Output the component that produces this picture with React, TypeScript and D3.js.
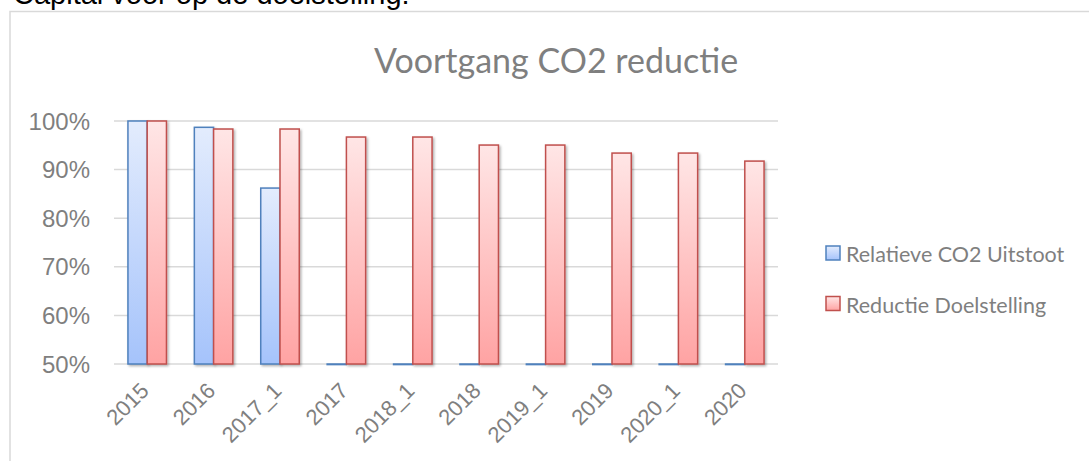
import * as React from "react";
import * as d3 from "d3";

const categories = ["2015", "2016", "2017_1", "2017", "2018_1", "2018", "2019_1", "2019", "2020_1", "2020"];
const seriesNames = ["Relatieve CO2 Uitstoot", "Reductie Doelstelling"];
const uitstoot = [1.0, 0.987, 0.862, 0, 0, 0, 0, 0, 0, 0];
const doelstelling = [1.0, 0.9835, 0.9835, 0.967, 0.967, 0.9505, 0.9505, 0.934, 0.934, 0.9175];
const yTicks = [0.5, 0.6, 0.7, 0.8, 0.9, 1.0];

const strokes = ["#4f81bd", "#c0504d"];
const gradTop = ["#e3ecfd", "#ffe6e6"];
const gradBottom = ["#a5c3fb", "#ffa3a3"];

const width = 1089;
const height = 461;
const plot = { left: 114, right: 778, top: 121, bottom: 364 };
const labelColor = "#7f7f7f";

export default function App() {
	const xScale = React.useMemo(
		() =>
			d3
				.scaleBand<string>()
				.domain(categories)
				.range([plot.left, plot.right])
				.paddingInner(0.42)
				.paddingOuter(0.21),
		[]
	);
	const xSub = React.useMemo(
		() => d3.scaleBand<number>().domain([0, 1]).range([0, xScale.bandwidth()]),
		[xScale]
	);
	const yScale = React.useMemo(
		() => d3.scaleLinear([0.5, 1], [plot.bottom, plot.top]),
		[]
	);
	const fmt = d3.format(".0%");
	const series = [uitstoot, doelstelling];

	const bars: JSX.Element[] = [];
	series.forEach((values, s) => {
		values.forEach((v, i) => {
			const x = (xScale(categories[i]) || 0) + (xSub(s) || 0);
			const y = yScale(Math.max(v, 0.5));
			const h = Math.max(yScale(0.5) - y, 0.6);
			bars.push(
				<rect
					key={`${s}-${i}`}
					x={x}
					y={v > 0.5 ? y : yScale(0.5)}
					width={xSub.bandwidth()}
					height={h}
					fill={`url(#grad${s})`}
					stroke={strokes[s]}
					strokeWidth={1.5}
					filter={v > 0.5 ? "url(#shadow)" : undefined}
				/>
			);
		});
	});

	return (
		<svg
			width={width}
			height={height}
			style={{ position: "absolute", left: 0, top: 0 }}
		>
			<defs>
				{[0, 1].map((s) => (
					<linearGradient key={s} id={`grad${s}`} x1="0" y1="0" x2="0" y2="1">
						<stop offset="0%" stopColor={gradTop[s]} />
						<stop offset="100%" stopColor={gradBottom[s]} />
					</linearGradient>
				))}
				<filter id="shadow" x="-20%" y="-5%" width="150%" height="115%">
					<feDropShadow dx="1.5" dy="1.5" stdDeviation="1.2" floodColor="#000" floodOpacity="0.3" />
				</filter>
			</defs>
			<rect width={width} height={height} fill="white" />
			<text
				x={13}
				y={4}
				fontFamily="Liberation Sans, Arial, sans-serif"
				fontSize={29}
				fill="#000"
			>
				Capital voor op de doelstelling:
			</text>
			<rect
				x={10}
				y={11.5}
				width={1200}
				height={600}
				fill="white"
				stroke="#d9d9d9"
				strokeWidth={1.5}
			/>
			<text
				x={556}
				y={73}
				textAnchor="middle"
				fontFamily="Lato, sans-serif"
				fontSize={34}
				fill={labelColor}
			>
				Voortgang CO2 reductie
			</text>
			{yTicks.map((t) => (
				<g key={t}>
					<line
						x1={plot.left}
						x2={plot.right}
						y1={yScale(t)}
						y2={yScale(t)}
						stroke="#d9d9d9"
						strokeWidth={1.5}
					/>
					<text
						x={90}
						y={yScale(t)}
						dy="0.36em"
						textAnchor="end"
						fontFamily="Liberation Sans, Arial, sans-serif"
						fontSize={24}
						fill={labelColor}
					>
						{fmt(t)}
					</text>
				</g>
			))}
			{bars}
			{categories.map((c) => {
				const cx = (xScale(c) || 0) + xScale.bandwidth() / 2 + 3;
				const cy = 392;
				return (
					<text
						key={c}
						transform={`translate(${cx},${cy}) rotate(-45)`}
						textAnchor="end"
						fontFamily="Liberation Sans, Arial, sans-serif"
						fontSize={22}
						fill={labelColor}
					>
						{c}
					</text>
				);
			})}
			{seriesNames.map((name, s) => (
				<g key={name} transform={`translate(826,${246 + s * 50.5})`}>
					<rect
						width={14}
						height={14}
						fill={`url(#grad${s})`}
						stroke={strokes[s]}
						strokeWidth={1.5}
					/>
					<text
						x={20}
						y={16}
						fontFamily="Lato, sans-serif"
						fontSize={21.5}
						fill={labelColor}
					>
						{name}
					</text>
				</g>
			))}
		</svg>
	);
}
